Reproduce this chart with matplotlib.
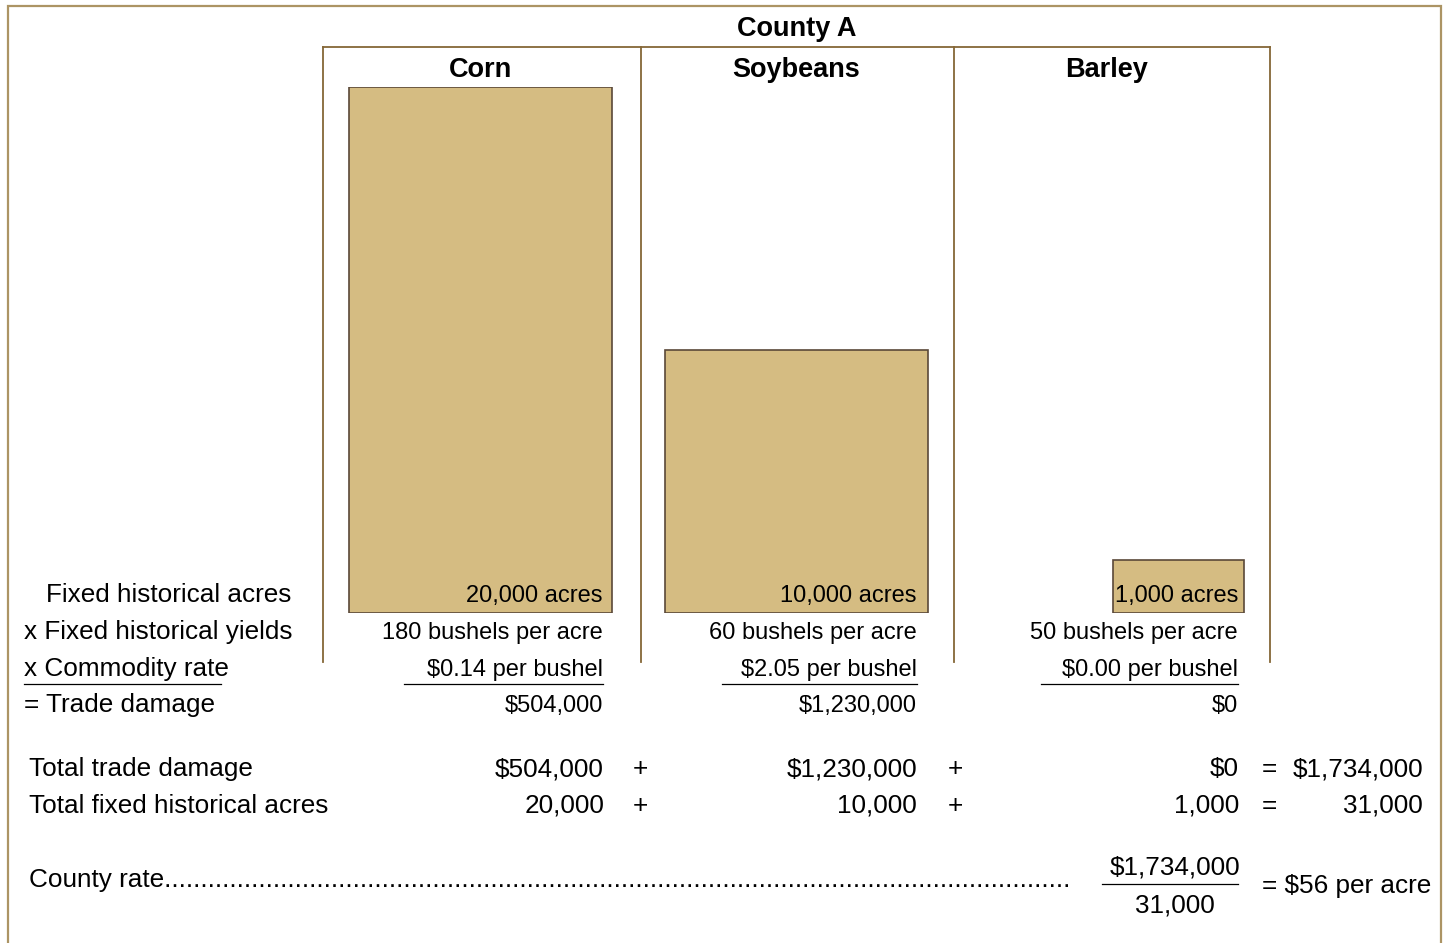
import matplotlib
matplotlib.use("Agg")
import matplotlib.pyplot as plt

plt.rcParams["font.family"] = ["Liberation Sans", "DejaVu Sans"]

# ---- data ----
title = "County A"
crops = ["Corn", "Soybeans", "Barley"]
acres = [20000, 10000, 1000]            # fixed historical acres
yields = [180, 60, 50]                  # bushels per acre
rates = [0.14, 2.05, 0.00]              # dollars per bushel
row_labels = ["Fixed historical acres", "x Fixed historical yields",
              "x Commodity rate", "= Trade damage"]

damage = [round(a * y * r) for a, y, r in zip(acres, yields, rates)]
total_damage = sum(damage)
total_acres = sum(acres)
county_rate = round(total_damage / total_acres)

# ---- layout / style ----
W, H = 1449, 943
BAR_FILL = "#D5BC82"
BAR_EDGE = "#5A4838"
FRAME = "#AC9464"
PANEL = "#856737"

fig = plt.figure(figsize=(W / 100, H / 100), dpi=100, facecolor="white")

# bars: area proportional to acres (barley drawn at half width)
bar_right = [612, 928, 1244]
full_w = 263
width_frac = [1.0, 1.0, 0.5]
bar_bottom_px, bar_top_px = 613, 87
bax = fig.add_axes([0, (H - bar_bottom_px) / H, 1,
                    (bar_bottom_px - bar_top_px) / H])
bax.set_zorder(0)
bax.set_xlim(0, W)
bax.set_ylim(0, max(acres))
bax.axis("off")
for r, a, wf in zip(bar_right, acres, width_frac):
    w = full_w * wf
    bax.bar(r - w, a / wf, width=w, align="edge", bottom=0,
            color=BAR_FILL, edgecolor=BAR_EDGE, linewidth=1.2)

# text and rules layer, in pixel coordinates
ax = fig.add_axes([0, 0, 1, 1])
ax.set_zorder(1)
ax.patch.set_alpha(0)
ax.set_xlim(0, W)
ax.set_ylim(H, 0)
ax.axis("off")

# outer frame (open at the bottom)
ax.plot([8, 8, 1441, 1441], [H, 6, 6, H], color=FRAME, lw=1.6,
        solid_joinstyle="miter")

# column panel
col_edges = [323, 641, 954, 1270]
ax.plot([col_edges[0], col_edges[-1]], [47, 47], color=PANEL, lw=1.3)
for x in col_edges:
    ax.plot([x, x], [47, 662], color=PANEL, lw=1.3)

ax.text(797, 36, title, ha="center", va="baseline", fontsize=19.5,
        fontweight="bold")
header_x = [481, 796, 1107]
for hx, name in zip(header_x, crops):
    ax.text(hx, 77, name, ha="center", va="baseline", fontsize=19.5,
            fontweight="bold")

# row labels
base = [602, 639, 676, 712]
label_x = [46, 24, 24, 24]
for lx, by, lab in zip(label_x, base, row_labels):
    ax.text(lx, by, lab, ha="left", va="baseline", fontsize=18.8)
ax.plot([24, 221], [684, 684], color="black", lw=0.9)

# column calculations
val_right = [603, 917, 1238]
line_left = [404, 722, 1041]
for vx, ll, a, y, r, d in zip(val_right, line_left, acres, yields, rates, damage):
    ax.text(vx, base[0], f"{a:,} acres", ha="right", va="baseline", fontsize=17)
    ax.text(vx, base[1], f"{y} bushels per acre", ha="right", va="baseline",
            fontsize=17)
    ax.text(vx, base[2], f"${r:.2f} per bushel", ha="right", va="baseline",
            fontsize=17)
    ax.plot([ll, vx], [684, 684], color="black", lw=0.9)
    ax.text(vx, base[3], f"${d:,}", ha="right", va="baseline", fontsize=17)

# totals
fs = 18.8
tot_right = [604, 917, 1239]
ops_x = [640, 955]
row1, row2 = 776, 813
ax.text(29, row1, "Total trade damage", ha="left", va="baseline", fontsize=fs)
ax.text(29, row2, "Total fixed historical acres", ha="left", va="baseline",
        fontsize=fs)
for tx, d, a in zip(tot_right, damage, acres):
    ax.text(tx, row1, f"${d:,}", ha="right", va="baseline", fontsize=fs)
    ax.text(tx, row2, f"{a:,}", ha="right", va="baseline", fontsize=fs)
for ox in ops_x:
    ax.text(ox, row1, "+", ha="center", va="baseline", fontsize=fs)
    ax.text(ox, row2, "+", ha="center", va="baseline", fontsize=fs)
ax.text(1269, row1, "=", ha="center", va="baseline", fontsize=fs)
ax.text(1269, row2, "=", ha="center", va="baseline", fontsize=fs)
ax.text(1423, row1, f"${total_damage:,}", ha="right", va="baseline", fontsize=fs)
ax.text(1423, row2, f"{total_acres:,}", ha="right", va="baseline", fontsize=fs)

# county rate
ax.text(29, 887, "County rate" + "." * 125, ha="left", va="baseline",
        fontsize=fs)
ax.text(1175, 875, f"${total_damage:,}", ha="center", va="baseline", fontsize=fs)
ax.plot([1102, 1238], [884, 884], color="black", lw=0.9)
ax.text(1175, 912, f"{total_acres:,}", ha="center", va="baseline", fontsize=fs)
ax.text(1262, 893, f"= ${county_rate} per acre", ha="left", va="baseline",
        fontsize=fs)

fig.savefig("out.png", dpi=100, facecolor="white")
